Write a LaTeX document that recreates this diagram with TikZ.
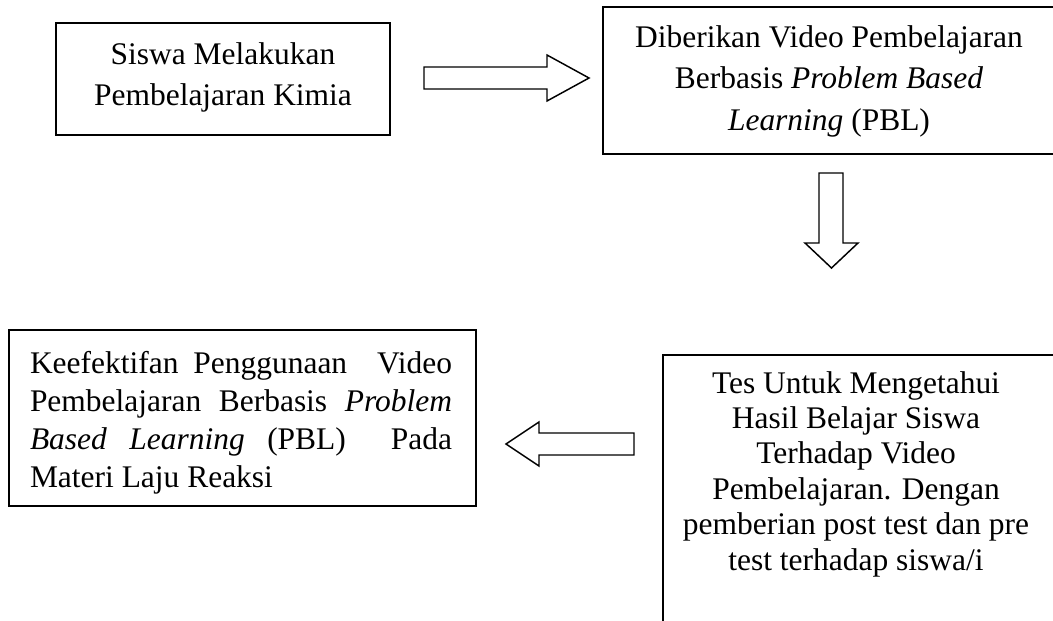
\documentclass[tikz,border=0pt]{standalone}
\usepackage{fontspec}
\setmainfont{Liberation Serif}
\usetikzlibrary{fit}
\begin{document}
\begin{tikzpicture}[x=0.75pt,y=-0.75pt,
  box/.style={draw, line width=1.1pt, inner sep=0pt, outer sep=0pt},
  blk/.style={draw, line width=1.1pt, line join=miter, fill=white},
  txt/.style={inner sep=0pt, outer sep=0pt, align=center, anchor=base},
  fs/.style={font=\fontsize{23.6pt}{#1}\selectfont}]
\useasboundingbox (0,0) rectangle (1053,621);
\clip (0,0) rectangle (1053,621);
% box corners
\coordinate (a1) at (56,23);  \coordinate (a2) at (390,135);
\coordinate (b1) at (603,7);  \coordinate (b2) at (1060,154);
\coordinate (c1) at (663,355); \coordinate (c2) at (1060,640);
\coordinate (d1) at (9,330);  \coordinate (d2) at (476,506);
\node[box, fit=(a1)(a2)] (box1) {};
\node[box, fit=(b1)(b2)] (box2) {};
\node[box, fit=(c1)(c2)] (box3) {};
\node[box, fit=(d1)(d2)] (box4) {};
% texts (anchored at the baseline of the last line)
\node[txt, fs=30.75pt] (t1) at (223,105) {Siswa Melakukan\\Pembelajaran Kimia};
\node[txt, fs=30.9pt] (t2) at (829,130) {Diberikan Video Pembelajaran\\Berbasis \textit{Problem Based}\\\textit{Learning} (PBL)};
\node[txt, fs=26.55pt] (t3) at (856,570) {Tes Untuk Mengetahui\\Hasil Belajar Siswa\\Terhadap Video\\Pembelajaran. Dengan\\pemberian post test dan pre\\test terhadap siswa/i};
\node[txt, anchor=base west, align=left, fs=28.3pt] (t4) at (30,487) {%
\hbox to 316.5pt{Keefektifan\hfill Penggunaan\hfill\hfill Video}\\
\hbox to 316.5pt{Pembelajaran\hfill Berbasis\hfill \textit{Problem}}\\
\hbox to 316.5pt{\textit{Based}\hfill \textit{Learning}\hfill (PBL)\hfill\hfill Pada}\\
Materi Laju Reaksi};
% block arrows
\draw[blk] (424,67) -- (547,67) -- (547,55) -- (589,78) -- (547,101) -- (547,89) -- (424,89) -- cycle;
\draw[blk] (819,173) -- (843,173) -- (843,243) -- (858,243) -- (831.5,268) -- (805,243) -- (819,243) -- cycle;
\draw[blk] (634,433) -- (539,433) -- (539,422) -- (506,444) -- (539,466) -- (539,455) -- (634,455) -- cycle;
\end{tikzpicture}
\end{document}
